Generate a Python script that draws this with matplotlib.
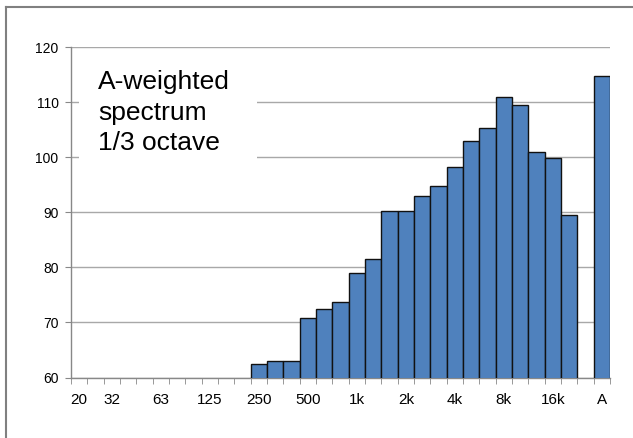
import matplotlib
matplotlib.use("Agg")
import matplotlib.pyplot as plt
from matplotlib.lines import Line2D
from matplotlib.patches import Rectangle
import numpy as np

plt.rcParams["font.family"] = ["Liberation Sans", "DejaVu Sans"]

# 1/3 octave band centres, then an empty slot and the overall A-weighted level
bands = ["20", "25", "31.5", "40", "50", "63", "80", "100", "125", "160", "200",
         "250", "315", "400", "500", "630", "800", "1k", "1.25k", "1.6k", "2k",
         "2.5k", "3.15k", "4k", "5k", "6.3k", "8k", "10k", "12.5k", "16k", "20k",
         "", "A"]
# dB(A) per band (None = below the axis floor / not shown)
levels = [None, None, None, None, None, None, None, None, None, None, None,
          62.4, 63.0, 63.0, 70.8, 72.5, 73.7, 79.0, 81.6, 90.3, 90.3,
          92.9, 94.8, 98.2, 103.0, 105.3, 110.9, 109.5, 100.9, 99.8, 89.5,
          None, 114.7]
# which categories get a text label on the x axis
tick_text = {"20": "20", "31.5": "32", "63": "63", "125": "125", "250": "250",
             "500": "500", "1k": "1k", "2k": "2k", "4k": "4k", "8k": "8k",
             "16k": "16k", "A": "A"}

x = np.arange(len(bands))
y = np.array([np.nan if v is None else v for v in levels])

fig = plt.figure(figsize=(6.33, 4.38), dpi=100)
ax = fig.add_axes([0.1122, 0.1381, 0.8515, 0.7539])

ax.bar(x, y, width=1.0, color="#4F81BD", edgecolor="#111111", linewidth=1.0, zorder=3)

ax.set_xlim(-0.5, len(bands) - 0.5)
ax.set_ylim(60, 120)
ax.set_yticks(np.arange(60, 121, 10))
ax.yaxis.grid(True, color="#A8A8A8", linewidth=1.0, zorder=0)
ax.set_axisbelow(True)

lab_pos = [i for i, b in enumerate(bands) if b in tick_text]
ax.set_xticks(lab_pos)
ax.set_xticklabels([tick_text[bands[i]] for i in lab_pos], fontsize=11)
ax.set_xticks(np.arange(-0.5, len(bands)), minor=True)
ax.tick_params(axis="x", which="major", length=0, pad=11)
ax.tick_params(axis="x", which="minor", length=4, color="#888888", direction="out")
ax.tick_params(axis="y", length=4.5, color="#888888", labelsize=10, pad=4.5)

for side in ("top", "right"):
    ax.spines[side].set_visible(False)
for side in ("left", "bottom"):
    ax.spines[side].set_color("#888888")
    ax.spines[side].set_linewidth(1.0)

# white label box covering the gridlines
ax.add_patch(Rectangle((0.015, 0.65), 0.33, 0.31, transform=ax.transAxes,
                       facecolor="white", edgecolor="none", zorder=2))
ax.text(0.05, 0.93, "A-weighted\nspectrum\n1/3 octave", transform=ax.transAxes,
        fontsize=19, va="top", ha="left", linespacing=1.33, zorder=4)

# chart frame (only top and left edges fall inside the image)
fig.add_artist(Line2D([6 / 633, 6 / 633], [0, 1 - 7 / 438], color="#808080",
                      linewidth=1.5, transform=fig.transFigure))
fig.add_artist(Line2D([6 / 633, 1], [1 - 7 / 438, 1 - 7 / 438], color="#808080",
                      linewidth=1.5, transform=fig.transFigure))

fig.savefig("out.png", dpi=100)
